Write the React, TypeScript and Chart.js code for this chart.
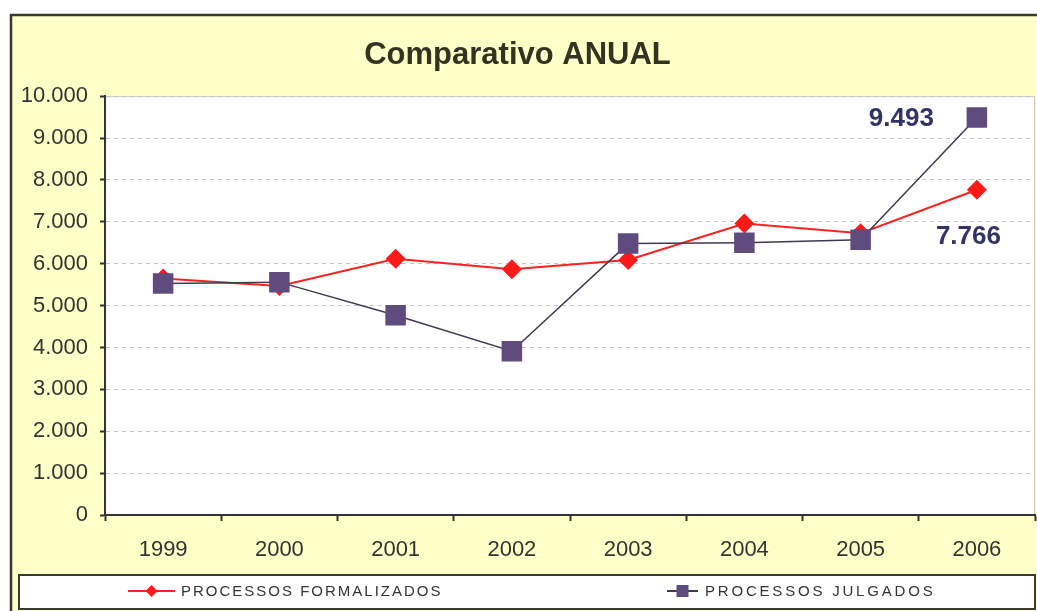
import React, { useEffect, useRef } from "react";
import { Chart, registerables } from "chart.js";

Chart.register(...registerables);

const categories = ["1999", "2000", "2001", "2002", "2003", "2004", "2005", "2006"];
const formalizados = [5650, 5470, 6120, 5870, 6090, 6960, 6730, 7766];
const julgados = [5530, 5560, 4770, 3910, 6480, 6500, 6570, 9493];
const seriesNames = ["PROCESSOS FORMALIZADOS", "PROCESSOS JULGADOS"];
const titleText = "Comparativo ANUAL";

const FONT = 'Arial, "Liberation Sans", sans-serif';
const W = 1037;
const H = 611;
const fmt = (v: number) => Number(v).toLocaleString("pt-BR");

const backgroundPlugin = {
  id: "bgPlugin",
  beforeDraw(chart: any) {
    const { ctx, chartArea } = chart;
    ctx.save();
    ctx.fillStyle = "#ffffff";
    ctx.fillRect(0, 0, W, H);
    ctx.fillStyle = "#FFFFC8";
    ctx.fillRect(11, 15, W, H);
    ctx.strokeStyle = "#3a3a2e";
    ctx.lineWidth = 2.5;
    ctx.strokeRect(11, 15, W + 10, H + 10);
    ctx.fillStyle = "#ffffff";
    ctx.fillRect(chartArea.left, chartArea.top, chartArea.right - chartArea.left, chartArea.bottom - chartArea.top);
    ctx.strokeStyle = "#c8c8c8";
    ctx.lineWidth = 1;
    ctx.beginPath();
    ctx.moveTo(chartArea.left, chartArea.top + 0.5);
    ctx.lineTo(chartArea.right - 0.5, chartArea.top + 0.5);
    ctx.lineTo(chartArea.right - 0.5, chartArea.bottom);
    ctx.stroke();
    ctx.restore();
  },
};

const legendPlugin = {
  id: "boxLegend",
  afterDraw(chart: any) {
    const { ctx } = chart;
    ctx.save();
    ctx.fillStyle = "#ffffff";
    ctx.fillRect(19, 575, 1016, 34);
    ctx.strokeStyle = "#3a3a2e";
    ctx.lineWidth = 2;
    ctx.strokeRect(19, 575, 1016, 34);
    const items = [
      { x1: 128, x2: 175, tx: 181, sp: "2px" },
      { x1: 667, x2: 698, tx: 705, sp: "2.8px" },
    ];
    const cy = 591;
    chart.data.datasets.forEach((ds: any, i: number) => {
      const it = items[i];
      ctx.strokeStyle = ds.borderColor;
      ctx.lineWidth = 2;
      ctx.beginPath();
      ctx.moveTo(it.x1, cy);
      ctx.lineTo(it.x2, cy);
      ctx.stroke();
      ctx.fillStyle = ds.pointBackgroundColor;
      const mid = (it.x1 + it.x2) / 2;
      ctx.beginPath();
      if (ds.pointStyle === "rectRot") {
        ctx.moveTo(mid, cy - 6);
        ctx.lineTo(mid + 6, cy);
        ctx.lineTo(mid, cy + 6);
        ctx.lineTo(mid - 6, cy);
        ctx.closePath();
      } else {
        ctx.rect(mid - 6, cy - 6, 12, 12);
      }
      ctx.fill();
      ctx.fillStyle = "#333333";
      ctx.font = `15px ${FONT}`;
      (ctx as any).letterSpacing = it.sp;
      ctx.textBaseline = "middle";
      ctx.textAlign = "left";
      ctx.fillText(ds.label, it.tx, cy + 1);
      (ctx as any).letterSpacing = "0px";
    });
    ctx.restore();
  },
};

const valueLabelPlugin = {
  id: "valueLabels",
  afterDatasetsDraw(chart: any) {
    const { ctx } = chart;
    ctx.save();
    ctx.font = `bold 26px ${FONT}`;
    ctx.fillStyle = "#333366";
    ctx.textBaseline = "middle";
    chart.data.datasets.forEach((ds: any, i: number) => {
      const meta = chart.getDatasetMeta(i);
      const last = meta.data[meta.data.length - 1];
      const v = ds.data[ds.data.length - 1];
      if (i === 1) {
        ctx.textAlign = "right";
        ctx.fillText(fmt(v), last.x - 43, last.y + 1);
      } else {
        ctx.textAlign = "left";
        ctx.fillText(fmt(v), last.x - 41, last.y + 47);
      }
    });
    ctx.restore();
  },
};

export default function App() {
  const ref = useRef<HTMLCanvasElement | null>(null);
  useEffect(() => {
    document.body.style.margin = "0";
    const canvas = ref.current!;
    const chart = new Chart(canvas, {
      type: "line",
      data: {
        labels: categories,
        datasets: [
          {
            label: seriesNames[0],
            data: formalizados,
            borderColor: "#FF2020",
            backgroundColor: "#FF1A1A",
            pointBackgroundColor: "#FF1A1A",
            pointBorderColor: "#FF1A1A",
            pointStyle: "rectRot",
            pointRadius: 10,
            pointBorderWidth: 0,
            borderWidth: 2,
            tension: 0,
            order: 2,
          } as any,
          {
            label: seriesNames[1],
            data: julgados,
            borderColor: "#3f3a4f",
            backgroundColor: "#5f4b7d",
            pointBackgroundColor: "#5f4b7d",
            pointBorderColor: "#5f4b7d",
            pointStyle: "rect",
            pointRadius: 14.5,
            pointBorderWidth: 0,
            borderWidth: 1.5,
            tension: 0,
            order: 1,
          } as any,
        ],
      },
      options: {
        responsive: false,
        animation: false,
        devicePixelRatio: 1,
        layout: { autoPadding: false, padding: { left: 0, right: 2, top: 0, bottom: 0 } } as any,
        plugins: {
          legend: { display: false },
          tooltip: { enabled: false },
          title: {
            display: true,
            text: titleText,
            color: "#333322",
            font: { family: FONT, size: 31, weight: "bold" },
            padding: { top: 37, bottom: 22 },
          },
        },
        scales: {
          x: {
            type: "category",
            offset: true,
            afterFit: (s: any) => {
              s.height = 96;
              s.paddingLeft = 0;
              s.paddingRight = 0;
            },
            grid: {
              display: true,
              drawOnChartArea: false,
              drawTicks: true,
              tickLength: 6,
              tickColor: "#333333",
              tickWidth: 2,
              offset: true,
            },
            border: { display: true, color: "#333333", width: 2 },
            ticks: {
              color: "#333333",
              font: { family: FONT, size: 22 },
              padding: 16,
              maxRotation: 0,
              autoSkip: false,
            },
          },
          y: {
            min: 0,
            max: 10000,
            afterFit: (s: any) => {
              s.width = 105;
            },
            grid: {
              color: "#c4c4c4",
              lineWidth: 1,
              drawTicks: true,
              tickLength: 5,
              tickColor: "#333333",
              tickWidth: 2,
              tickBorderDash: [],
            } as any,
            border: { display: true, color: "#333333", width: 2, dash: [4, 4] } as any,
            ticks: {
              stepSize: 1000,
              color: "#333333",
              font: { family: FONT, size: 22 },
              padding: 12,
              callback: (v: any) => fmt(Number(v)),
            },
          },
        },
      },
      plugins: [backgroundPlugin, legendPlugin, valueLabelPlugin],
    });
    return () => chart.destroy();
  }, []);
  return (
    <div style={{ position: "absolute", left: 0, top: 0, width: W, height: H }}>
      <canvas ref={ref} width={W} height={H} style={{ display: "block" }} />
    </div>
  );
}
